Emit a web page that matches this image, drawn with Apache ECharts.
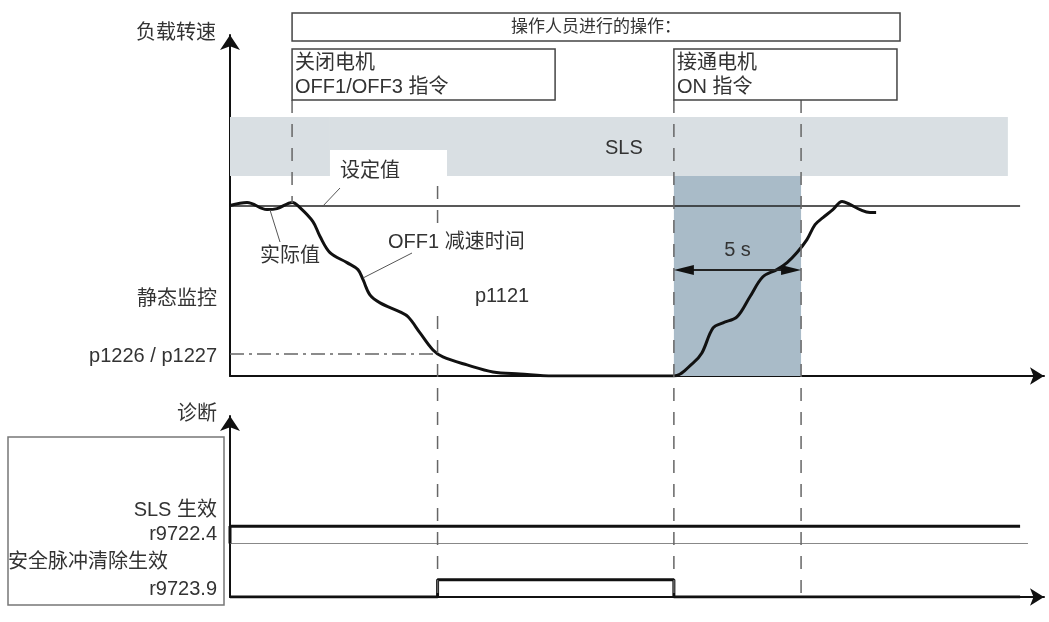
<!DOCTYPE html>
<html>
<head>
<meta charset="utf-8">
<script src="https://cdn.jsdelivr.net/npm/echarts@6/dist/echarts.min.js"></script>
<style>
html, body { margin: 0; padding: 0; background: #fff; }
#main { width: 1049px; height: 622px; }
</style>
</head>
<body>
<div id="main"></div>
<script>
// 负载转速 (时间 s / 转速 %, 设定值 = 100)
var speedTime = [0, 0.67, 1.45, 1.85, 2.45, 2.75, 3.26, 3.54, 3.93, 4.6, 5.03, 5.23, 5.5, 5.9,
    6.68, 7.0, 7.47, 7.98, 8.37, 9.32, 10.34, 11.4, 12.7, 15.0, 17.45, 18.2, 18.55, 18.99, 19.38,
    19.93, 20.44, 20.95, 21.5, 21.9, 22.29, 22.68, 23.0, 23.31, 23.7, 24.06, 24.37, 24.77, 25.16, 25.4];
var speedValue = [100, 101.8, 97.6, 98.2, 101.8, 98.8, 90.6, 81.8, 72.4, 66.5, 62.4, 56.5, 47.6, 42.9,
    37.6, 34.7, 25.3, 15.3, 11.2, 6.5, 2.4, 1.2, 0, 0, 0, 7.6, 13.5, 28.2, 31.2,
    34.7, 46.5, 58.2, 62.4, 66.5, 72.4, 80, 88.8, 92.9, 97.6, 102.4, 100.6, 97.6, 95.9, 95.9];
var setpoint = 100;
var standstill = 13;          // p1226 / p1227
var slsLow = 117.3, slsHigh = 151.9;
// OFF1, 脉冲清除, ON, ON + 5 s
var eventTimes = [2.44, 8.16, 17.45, 22.45];

// 诊断信号
var slsTime = [0, 0, 31.06];
var slsLevel = [0, 1, 1];        // r9722.4
var stoTime = [0, 8.16, 17.45, 31.06];
var stoLevel = [0, 1, 0, 0];     // r9723.9
var slsBase = 3.1;

var FONT = '"Liberation Sans", "Noto Sans CJK SC", sans-serif';
var INK = '#333';

function zip(a, b, off) {
    var out = [];
    for (var i = 0; i < a.length; i++) out.push([a[i], b[i] + (off || 0)]);
    return out;
}

function axis(g, max, sym) {
    return {
        gridIndex: g, type: 'value', min: 0, max: max,
        axisLine: { show: true, onZero: false, symbol: ['none', 'arrow'], symbolSize: sym,
            lineStyle: { color: '#111', width: 2 } },
        axisTick: { show: false }, axisLabel: { show: false }, splitLine: { show: false }
    };
}

var myChart = echarts.init(document.getElementById('main'));

var option = {
    animation: false,
    grid: [
        { left: 230, top: 35, width: 814, height: 341 },
        { left: 230, top: 416, width: 814, height: 181 }
    ],
    xAxis: [axis(0, 32, [13, 14]), axis(1, 32, [13, 14])],
    yAxis: [axis(0, 200, [15, 15]), axis(1, 10.5, [15, 15])],
    series: [
        {
            name: 'SLS', type: 'line', xAxisIndex: 0, yAxisIndex: 0, data: [],
            markArea: {
                silent: true, itemStyle: { color: '#d9dfe3' },
                data: [
                    [{ xAxis: 0, yAxis: slsLow }, { xAxis: 3.93, yAxis: slsHigh }],
                    [{ xAxis: 3.93, yAxis: 132.6 }, { xAxis: 8.53, yAxis: slsHigh }],
                    [{ xAxis: 8.53, yAxis: slsLow }, { xAxis: 30.58, yAxis: slsHigh }]
                ]
            }
        },
        {
            name: 'ON', type: 'line', xAxisIndex: 0, yAxisIndex: 0, data: [],
            markArea: {
                silent: true, itemStyle: { color: '#a9bbc8' },
                data: [[{ xAxis: eventTimes[2], yAxis: 0 }, { xAxis: eventTimes[3], yAxis: slsLow }]]
            }
        },
        {
            name: '设定值', type: 'line', xAxisIndex: 0, yAxisIndex: 0, data: [],
            markLine: {
                silent: true, symbol: 'none', label: { show: false },
                data: [
                    [{ coord: [0, setpoint], lineStyle: { color: '#222', width: 1.5, type: 'solid' } },
                     { coord: [31.06, setpoint] }],
                    [{ coord: [0, standstill], lineStyle: { color: '#666', width: 1.5, type: [14, 5, 3, 5] } },
                     { coord: [eventTimes[1], standstill] }]
                ]
            }
        },
        {
            name: '实际值', type: 'line', xAxisIndex: 0, yAxisIndex: 0,
            data: zip(speedTime, speedValue), smooth: 0.35, showSymbol: false, z: 5,
            lineStyle: { color: '#111', width: 3 }
        },
        {
            name: 'r9722.4', type: 'line', xAxisIndex: 1, yAxisIndex: 1,
            data: zip(slsTime, slsLevel, slsBase), showSymbol: false, z: 5,
            lineStyle: { color: '#111', width: 3 },
            markLine: {
                silent: true, symbol: 'none', label: { show: false },
                lineStyle: { color: '#888', width: 1, type: 'solid' },
                data: [[{ coord: [0, slsBase] }, { coord: [31.37, slsBase] }]]
            }
        },
        {
            name: 'r9723.9', type: 'line', xAxisIndex: 1, yAxisIndex: 1, step: 'end',
            data: zip(stoTime, stoLevel), showSymbol: false, z: 5,
            lineStyle: { color: '#111', width: 3 }
        }
    ]
};
myChart.setOption(option);

// 注释: 框, 虚线, 文字
function px(g, x, y) { return myChart.convertToPixel({ gridIndex: g }, [x, y]); }
var ex = eventTimes.map(function (t) { return px(0, t, 0)[0]; });
var yBottom = px(1, 0, 0)[1];
var yArrow = px(0, 0, 62.2)[1];

function txt(s, x, y, align, size) {
    return { type: 'text', z: 50, style: { text: s, x: x, y: y, align: align || 'left',
        verticalAlign: 'middle', fill: INK, font: (size || 20) + 'px ' + FONT } };
}
function box(x1, y1, x2, y2, color) {
    return { type: 'rect', z: 40, shape: { x: x1, y: y1, width: x2 - x1, height: y2 - y1 },
        style: { fill: 'none', stroke: color || '#444', lineWidth: 1.5 } };
}
function dash(x, y1, y2) {
    return { type: 'line', z: 30, shape: { x1: x, y1: y1, x2: x, y2: y2 },
        style: { stroke: '#666', lineWidth: 1.5, lineDash: [13, 11] } };
}
function lead(x1, y1, x2, y2) {
    return { type: 'line', z: 30, shape: { x1: x1, y1: y1, x2: x2, y2: y2 },
        style: { stroke: '#555', lineWidth: 1 } };
}

var g = [
    box(ex[0], 13, px(0, 26.34, 0)[0], 41),
    txt('操作人员进行的操作：', 596, 27, 'center', 17),
    box(ex[0], 49, px(0, 12.78, 0)[0], 100),
    txt('关闭电机', ex[0] + 3, 63),
    txt('OFF1/OFF3 指令', ex[0] + 3, 87),
    box(ex[2], 49, px(0, 26.22, 0)[0], 100),
    txt('接通电机', ex[2] + 3, 63),
    txt('ON 指令', ex[2] + 3, 87),

    dash(ex[0], 100, 203),
    dash(ex[1], 186, 226),
    dash(ex[1], 316, yBottom),
    dash(ex[2], 100, yBottom),
    dash(ex[3], 100, yBottom),

    txt('负载转速', 216, 33, 'right'),
    txt('静态监控', 217, 299, 'right'),
    txt('p1226 / p1227', 217, 356, 'right'),
    txt('诊断', 217, 414, 'right'),
    box(8, 437, 224, 605, '#777'),
    txt('SLS 生效', 217, 510, 'right'),
    txt('r9722.4', 217, 534, 'right'),
    txt('安全脉冲清除生效', 8, 562, 'left'),
    txt('r9723.9', 217, 589, 'right'),

    txt('SLS', 605, 148),
    txt('设定值', 340, 171),
    lead(340, 188, 322, 207),
    txt('实际值', 260, 256),
    lead(280, 242, 270, 210),
    txt('OFF1 减速时间', 388, 242),
    lead(412, 253, 363, 278),
    txt('p1121', 475, 296),

    // 5 s 尺寸箭头
    { type: 'line', z: 30, shape: { x1: ex[2] + 10, y1: yArrow, x2: ex[3] - 10, y2: yArrow },
        style: { stroke: '#222', lineWidth: 2 } },
    { type: 'polygon', z: 31, shape: { points: [[ex[2], yArrow], [ex[2] + 20, yArrow - 5], [ex[2] + 20, yArrow + 5]] },
        style: { fill: '#111' } },
    { type: 'polygon', z: 31, shape: { points: [[ex[3], yArrow], [ex[3] - 20, yArrow - 5], [ex[3] - 20, yArrow + 5]] },
        style: { fill: '#111' } },
    txt('5 s', (ex[2] + ex[3]) / 2, yArrow - 19, 'center')
];
myChart.setOption({ graphic: g });
</script>
</body>
</html>
